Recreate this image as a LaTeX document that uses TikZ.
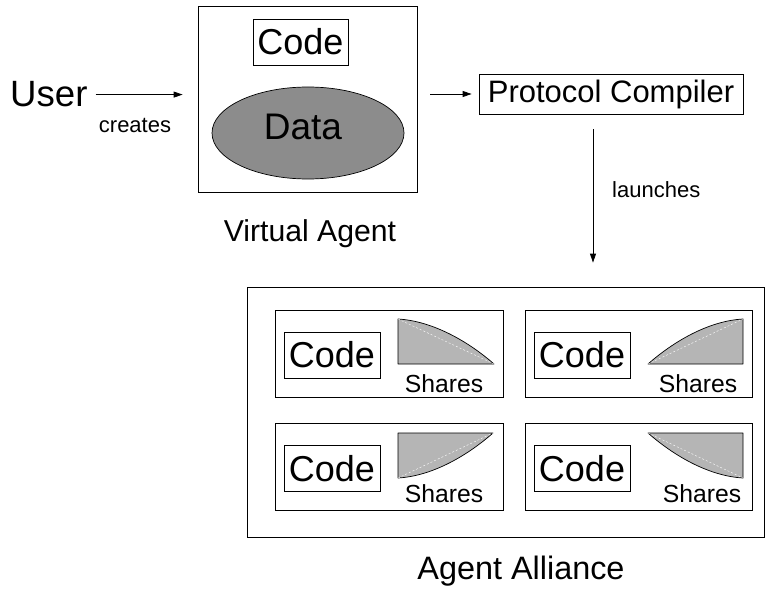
\documentclass[tikz,border=0pt]{standalone}
\usepackage{fontspec}
\setmainfont{Liberation Sans}
\usetikzlibrary{arrows.meta,shapes.geometric}
\definecolor{datagray}{gray}{0.55}
\definecolor{sharegray}{gray}{0.71}
\newcommand{\fsz}[1]{\fontsize{#1}{#1}\selectfont}
\begin{document}
\begin{tikzpicture}[x=1pt,y=-1pt,
  box/.style={draw, line width=0.8pt, rectangle, inner sep=0pt},
  txt/.style={inner sep=0pt},
  codebox/.style={box, minimum width=96pt, minimum height=46pt, font=\fsz{36}},
  share/.style={fill=sharegray, draw=black, line width=0.7pt, line join=round},
  chord/.style={draw=white, line width=0.4pt, dash pattern=on 2pt off 2pt},
  arr/.style={-{Triangle[length=9pt,width=6pt]}, line width=0.8pt}]
\useasboundingbox (0,0) rectangle (765,596);

% user and the virtual agent
\node[txt, anchor=base west, font=\fsz{36.6}] (user) at (10,107) {User};
\node[box, minimum width=219pt, minimum height=186pt] (virt) at (307.5,99) {};
\node[box, minimum width=95pt, minimum height=46pt, font=\fsz{36}] (vcode) at (300.5,42) {Code};
\node[draw, line width=0.7pt, ellipse, fill=datagray, minimum width=192pt, minimum height=92pt, inner sep=0pt] (data) at (308,133) {};
\node[txt, anchor=base, font=\fsz{37}] (datatxt) at (303,140) {Data};
\node[txt, anchor=base, font=\fsz{30.2}] (virtlbl) at (310,241) {Virtual Agent};

\draw[arr, shorten <=8pt, shorten >=15pt] (user.east) -- (user.east -| virt.west);
\node[txt, anchor=base, font=\fsz{22}] (creates) at (135,133) {creates};

% compiler
\node[box, minimum width=264pt, minimum height=40pt, font=\fsz{31}] (compiler) at (611,94) {Protocol Compiler};
\draw[arr, shorten <=13pt, shorten >=7pt] (virt.east |- compiler.west) -- (compiler.west);

% agent alliance
\node[box, minimum width=517pt, minimum height=250pt] (alliance) at (505.5,412) {};
\node[txt, anchor=base, font=\fsz{32.4}] (alliancelbl) at (521,579) {Agent Alliance};

\draw[arr, shorten <=15pt, shorten >=24pt] ([xshift=-18pt]compiler.south) -- ([xshift=-18pt]compiler.south |- alliance.north);
\node[txt, anchor=base west, font=\fsz{22}] (launches) at (612,197) {launches};

% the four agents
\node[box, minimum width=228pt, minimum height=87pt] (agA) at (389,353.5) {};
\node[box, minimum width=227pt, minimum height=87pt] (agB) at (638.5,353.5) {};
\node[box, minimum width=228pt, minimum height=87pt] (agC) at (389,466.5) {};
\node[box, minimum width=227pt, minimum height=87pt] (agD) at (638.5,466.5) {};

\node[codebox] (codeA) at (332,355) {Code};
\node[codebox] (codeB) at (582,355) {Code};
\node[codebox] (codeC) at (332,468.5) {Code};
\node[codebox] (codeD) at (582,468.5) {Code};

% share pieces: a shallow arc over a right-angled corner
\path[share] (398,364) -- (398,319) .. controls (433,321) and (469,342) .. (494,364) -- cycle;
\path[chord] (398,319) -- (494,364);
\path[share] (743,364) -- (648,364) .. controls (673,342) and (708,321) .. (743,319) -- cycle;
\path[chord] (648,364) -- (743,319);
\path[share] (398,433) -- (398,478) .. controls (433,476) and (468,455) .. (493,433) -- cycle;
\path[chord] (398,478) -- (493,433);
\path[share] (743,433) -- (648,433) .. controls (673,455) and (708,476) .. (743,478) -- cycle;
\path[chord] (648,433) -- (743,478);

\node[txt, anchor=base, font=\fsz{24.7}] (shA) at (444,392) {Shares};
\node[txt, anchor=base, font=\fsz{24.7}] (shB) at (698,392) {Shares};
\node[txt, anchor=base, font=\fsz{24.7}] (shC) at (444,502) {Shares};
\node[txt, anchor=base, font=\fsz{24.7}] (shD) at (702,502) {Shares};
\end{tikzpicture}
\end{document}
